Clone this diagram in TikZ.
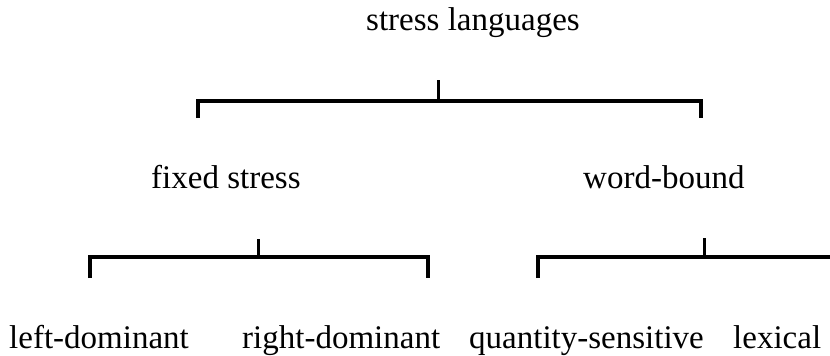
\documentclass[tikz,border=0pt]{standalone}
\usepackage{fontspec}
\setmainfont{Liberation Serif}
\begin{document}
\begin{tikzpicture}[x=1pt,y=-1pt,
  lbl/.style={inner sep=0pt,anchor=base west,font=\fontsize{33}{36}\selectfont},
  brk/.style={line width=3.5pt,line join=miter},
  tck/.style={line width=3pt}]
\useasboundingbox (0,0) rectangle (830,356);
\node[lbl] (root) at (366,30) {stress languages};
\node[lbl] (fixed) at (151,188) {fixed stress};
\node[lbl] (word) at (583,188) {word-bound};
\node[lbl] (ld) at (9,348) {left-dominant};
\node[lbl] (rd) at (242,348) {right-dominant};
\node[lbl] (qs) at (469,348) {quantity-sensitive};
\node[lbl] (lex) at (733,348) {lexical};
% top bracket
\coordinate (t0) at (438,80);
\coordinate (t1) at (438,101);
\coordinate (tl) at (198,118);
\coordinate (tr) at (701,118);
\draw[tck] (t0) -- (t1);
\draw[brk] (tl) -- (tl |- t1) -- (tr |- t1) -- (tr);
% left bracket
\coordinate (l0) at (258,239);
\coordinate (l1) at (258,257);
\coordinate (ll) at (90,278);
\coordinate (lr) at (428,278);
\draw[tck] (l0) -- (l1);
\draw[brk] (ll) -- (ll |- l1) -- (lr |- l1) -- (lr);
% right bracket
\coordinate (r0) at (704,238);
\coordinate (r1) at (704,257);
\coordinate (rl) at (538,278);
\coordinate (rr) at (832,257);
\draw[tck] (r0) -- (r1);
\draw[brk] (rl) -- (rl |- r1) -- (rr);
\end{tikzpicture}
\end{document}
